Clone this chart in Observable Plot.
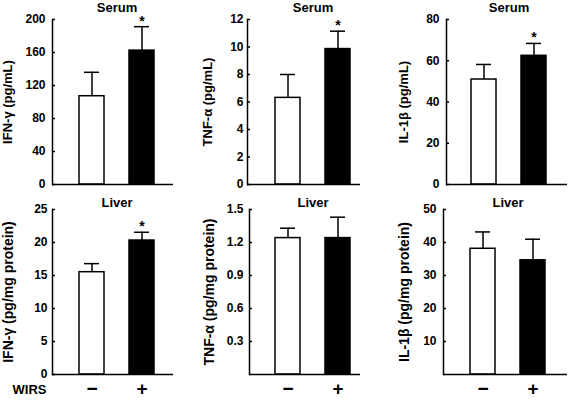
<!DOCTYPE html>
<html><head><meta charset="utf-8">
<script src="https://cdn.jsdelivr.net/npm/d3@7"></script>
<script src="https://cdn.jsdelivr.net/npm/@observablehq/plot@0.6"></script>
<style>
body{margin:0;background:#fff;}
#chart{position:relative;width:568px;height:403px;overflow:hidden;}
#chart svg{position:absolute;overflow:visible;}
</style></head><body><div id="chart"></div>
<script>
// ---- data ----
const groups = ["−", "+"];
const treatmentLabel = "WIRS";
const barFills = ["white", "black"];
const titles = ["Serum", "Serum", "Serum", "Liver", "Liver", "Liver"];
const yLabels = ["IFN-γ (pg/mL)", "TNF-α (pg/mL)", "IL-1β (pg/mL)",
                 "IFN-γ (pg/mg protein)", "TNF-α (pg/mg protein)", "IL-1β (pg/mg protein)"];
const serumIFN = [107, 162.3], serumIFNsem = [29, 29];
const serumTNF = [6.3, 9.85], serumTNFsem = [1.7, 1.3];
const serumIL1 = [50.9, 62.4], serumIL1sem = [7.3, 6.0];
const liverIFN = [15.5, 20.3], liverIFNsem = [1.3, 1.25];
const liverTNF = [1.24, 1.24], liverTNFsem = [0.09, 0.19];
const liverIL1 = [38.1, 34.6], liverIL1sem = [5.1, 6.4];
const serumSig = ["", "*"], liverSig = ["", "*"], noSig = ["", ""];
const yMax = [200, 12, 80, 25, 1.5, 50];
const yTicks = [[0, 40, 80, 120, 160, 200], [0, 2, 4, 6, 8, 10, 12], [0, 20, 40, 60, 80],
                [0, 5, 10, 15, 20, 25], [0.3, 0.6, 0.9, 1.2, 1.5], [10, 20, 30, 40, 50]];

// ---- layout ----
const layouts = [
  {left:0,   top:0,   w:190, h:195, ml:52, mr:17, mt:19, mb:11, r:[79,154], pad:7, labelDx:-44.5, titleDy:-11.5, labelFs:13},
  {left:190, top:0,   w:190, h:195, ml:57, mr:20, mt:19, mb:11, r:[85,160], pad:4, labelDx:-39.5, titleDy:-11.5, labelFs:13},
  {left:380, top:0,   w:188, h:195, ml:66, mr:1,  mt:19, mb:11, r:[91,166], pad:7, labelDx:-43,   titleDy:-11.5, labelFs:13},
  {left:0,   top:195, w:190, h:208, ml:52, mr:17, mt:14, mb:29, r:[79,154], pad:5, labelDx:-44,   titleDy:-6.5,  labelFs:14},
  {left:190, top:195, w:190, h:208, ml:59, mr:20, mt:14, mb:29, r:[85,160], pad:6, labelDx:-40,   titleDy:-6.5,  labelFs:14},
  {left:380, top:195, w:188, h:208, ml:63, mr:1,  mt:14, mb:29, r:[90,165], pad:7, labelDx:-39,   titleDy:-6.5,  labelFs:14}
];

const panels = [
  [serumIFN, serumIFNsem, serumSig],
  [serumTNF, serumTNFsem, serumSig],
  [serumIL1, serumIL1sem, serumSig],
  [liverIFN, liverIFNsem, liverSig],
  [liverTNF, liverTNFsem, noSig],
  [liverIL1, liverIL1sem, noSig]
];

const chart = document.getElementById("chart");
panels.forEach(([means, sems, sig], i) => {
  const L = layouts[i];
  const data = groups.map((g, j) => ({g, mean: means[j], top: means[j] + sems[j], fill: barFills[j], star: sig[j]}));
  const fw = L.w - L.ml - L.mr;
  const dxTitle = (L.r[0] + L.r[1]) / 2 - (L.ml + fw / 2);
  const bottomRow = i >= 3;
  const marks = [
    Plot.barY(data, {x: "g", y: "mean", fill: "fill", stroke: "black", strokeWidth: 1.5}),
    Plot.ruleX(data, {x: "g", y1: "mean", y2: "top", strokeWidth: 1.5}),
    Plot.tickY(data, {x: "g", y: "top", insetLeft: 5, insetRight: 5, strokeWidth: 1.5}),
    Plot.text(data.filter(d => d.star), {x: "g", y: "top", text: "star", lineAnchor: "bottom", dy: -1, fontSize: 14}),
    Plot.ruleY(yTicks[i], {y: d => d, insetRight: fw - 3, strokeWidth: 1.5}),
    Plot.ruleY([0], {strokeWidth: 1.5}),
    Plot.frame({anchor: "left", strokeWidth: 1.5}),
    Plot.text([titles[i]], {frameAnchor: "top", textAnchor: "middle", lineAnchor: "middle", dx: dxTitle, dy: L.titleDy, fontSize: 13, text: d => d}),
    Plot.text([yLabels[i]], {frameAnchor: "left", textAnchor: "middle", lineAnchor: "middle", rotate: -90, dx: L.labelDx, fontSize: L.labelFs, text: d => d})
  ];
  if (bottomRow) {
    marks.push(Plot.text(data, {x: "g", text: "g", frameAnchor: "bottom", textAnchor: "middle", lineAnchor: "middle", dy: 14.5, fontSize: 19}));
  }
  if (i === 3) {
    marks.push(Plot.text([treatmentLabel], {frameAnchor: "bottom-left", textAnchor: "middle", lineAnchor: "middle", dx: -23, dy: 15, fontSize: 13, text: d => d}));
  }
  const svg = Plot.plot({
    width: L.w, height: L.h,
    marginLeft: L.ml, marginRight: L.mr, marginTop: L.mt, marginBottom: L.mb,
    style: {fontFamily: "'Liberation Sans', Arial, sans-serif", fontWeight: "bold", fontSize: "12px", color: "black", background: "transparent"},
    x: {domain: groups, range: L.r, paddingInner: 0.5, paddingOuter: 0, axis: null},
    y: {domain: [0, yMax[i]], ticks: yTicks[i], tickSize: 0, tickPadding: L.pad, label: null},
    color: {type: "identity"},
    marks
  });
  svg.style.left = L.left + "px";
  svg.style.top = L.top + "px";
  chart.appendChild(svg);
});
</script>
</body></html>
